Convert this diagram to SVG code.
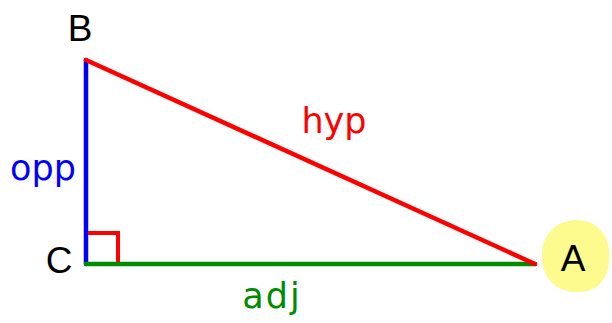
<svg xmlns="http://www.w3.org/2000/svg" width="612" height="323" viewBox="0 0 612 323">
<style>
.vlabel{font-family:"Liberation Sans",Arial,sans-serif;font-size:37px;fill:#000}
.slabel{font-family:"Comic Sans MS","DejaVu Sans",sans-serif;font-size:35px}
.edge{stroke-width:4.5;stroke-linecap:round;fill:none}
</style>
<rect width="612" height="323" fill="#fff"/>
<g id="A">
<path d="M575,220 C598,219 611,238 609,257 C610,279 596,293 577,292 C558,293 542,278 542,258 C541,236 555,221 575,220 Z" fill="#fdfa8e"/>
<text class="vlabel" x="573" y="271" text-anchor="middle">A</text>
</g>
<g id="B"><text class="vlabel" x="80" y="41" text-anchor="middle">B</text></g>
<g id="C"><text class="vlabel" x="59" y="273" text-anchor="middle">C</text></g>
<g id="connectors">
<line class="edge" x1="86" y1="60" x2="86" y2="264" stroke="#0000ff"/>
<line class="edge" x1="86" y1="264" x2="535" y2="264" stroke="#008c00"/>
<line class="edge" x1="86" y1="60" x2="535" y2="264" stroke="#ff0000"/>
<polyline points="88,233 118,233 118,262" stroke="#ff0000" stroke-width="4" fill="none"/>
</g>
<g id="labels">
<text class="slabel" x="334" y="133" text-anchor="middle" fill="#ff0000">hyp</text>
<text class="slabel" x="43" y="180" text-anchor="middle" fill="#0000ff">opp</text>
<text class="slabel" x="272" y="308" text-anchor="middle" fill="#008c00" letter-spacing="2">adj</text>
</g>
</svg>
